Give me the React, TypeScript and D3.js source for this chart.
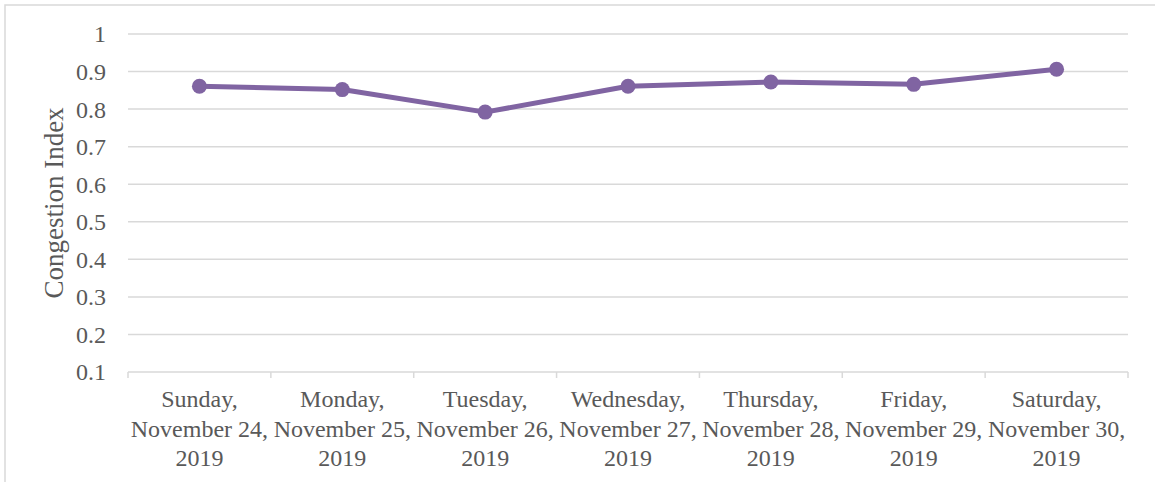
import React from "react";
import * as d3 from "d3";

// Daily congestion index, last week of November 2019
const dayNames = ["Sunday,", "Monday,", "Tuesday,", "Wednesday,", "Thursday,", "Friday,", "Saturday,"];
const dateLines = ["November 24,", "November 25,", "November 26,", "November 27,", "November 28,", "November 29,", "November 30,"];
const yearLine = ["2019", "2019", "2019", "2019", "2019", "2019", "2019"];
const congestion = [0.861, 0.852, 0.792, 0.861, 0.872, 0.866, 0.906];
const yTicks = [0.1, 0.2, 0.3, 0.4, 0.5, 0.6, 0.7, 0.8, 0.9, 1];

const W = 1155;
const H = 482;
const plot = { left: 128, right: 1128, top: 34, bottom: 372 };
const FONT = "'Liberation Serif', 'Times New Roman', serif";
const TEXT = "#595959";
const GRID = "#d9d9d9";
const LINE = "#8064a2";

export default function App() {
  const x = d3
    .scaleBand<number>()
    .domain(d3.range(congestion.length))
    .range([plot.left, plot.right]);
  const y = d3.scaleLinear().domain([0.1, 1]).range([plot.bottom, plot.top]);

  const cx = (i: number) => (x(i) as number) + x.bandwidth() / 2;
  const line = d3
    .line<number>()
    .x((_, i) => cx(i))
    .y((d) => y(d));

  const boundaries = d3.range(congestion.length + 1).map((i) =>
    i < congestion.length ? (x(i) as number) : plot.right
  );

  return (
    <svg
      width={W}
      height={H}
      style={{ position: "absolute", left: 0, top: 0, background: "#fff" }}
    >
      <rect x={5} y={5} width={W + 50} height={H + 50} fill="#fff" stroke={GRID} strokeWidth={1.5} />

      {yTicks.map((t) => (
        <g key={t}>
          {t > 0.1 && (
            <line x1={plot.left} x2={plot.right} y1={y(t)} y2={y(t)} stroke={GRID} strokeWidth={1.5} />
          )}
          <text
            x={106}
            y={y(t)}
            dy="0.35em"
            textAnchor="end"
            fontFamily={FONT}
            fontSize={24}
            fill={TEXT}
          >
            {d3.format("~g")(t)}
          </text>
        </g>
      ))}

      {/* category axis */}
      <line x1={plot.left} x2={plot.right} y1={plot.bottom} y2={plot.bottom} stroke={GRID} strokeWidth={1.5} />
      {boundaries.map((bx, i) => (
        <line key={i} x1={bx} x2={bx} y1={plot.bottom} y2={plot.bottom + 6} stroke={GRID} strokeWidth={1.5} />
      ))}
      {congestion.map((_, i) => (
        <text
          key={i}
          x={cx(i)}
          textAnchor="middle"
          fontFamily={FONT}
          fontSize={24}
          fill={TEXT}
        >
          <tspan x={cx(i)} y={407}>{dayNames[i]}</tspan>
          <tspan x={cx(i)} y={437}>{dateLines[i]}</tspan>
          <tspan x={cx(i)} y={466}>{yearLine[i]}</tspan>
        </text>
      ))}

      <text
        transform="translate(63, 203) rotate(-90)"
        textAnchor="middle"
        fontFamily={FONT}
        fontSize={27}
        fill={TEXT}
      >
        Congestion Index
      </text>

      <path d={line(congestion) || ""} fill="none" stroke={LINE} strokeWidth={5} strokeLinejoin="round" />
      {congestion.map((v, i) => (
        <circle key={i} cx={cx(i)} cy={y(v)} r={7.5} fill={LINE} />
      ))}
    </svg>
  );
}
